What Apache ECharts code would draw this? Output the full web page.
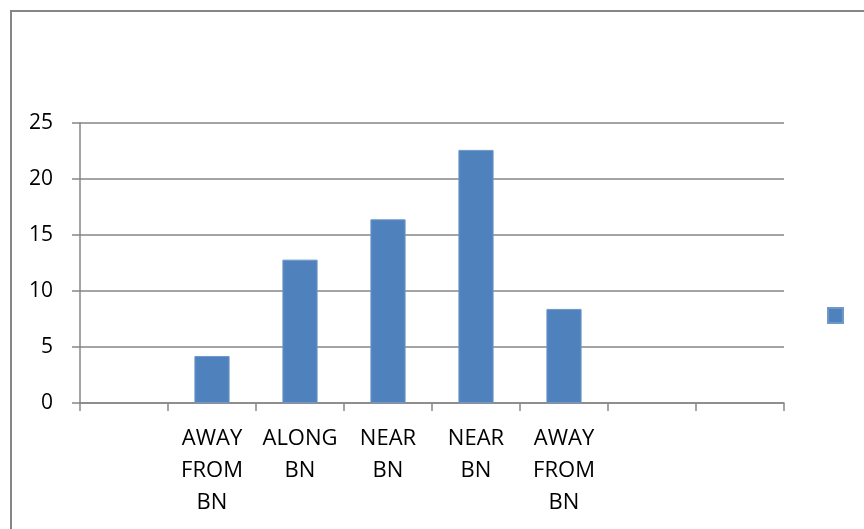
<!DOCTYPE html>
<html>
<head>
<meta charset="utf-8">
<script src="https://cdn.jsdelivr.net/npm/echarts@6/dist/echarts.min.js"></script>
<style>
  html, body { margin: 0; padding: 0; background: #fff; }
  #chart { width: 864px; height: 529px; }
</style>
</head>
<body>
<div id="chart"></div>
<script>
// Category slots along the x axis (blank slots carry no bar)
var categories = ['', 'AWAY\nFROM\nBN', 'ALONG\nBN', 'NEAR\nBN', 'NEAR\nBN', 'AWAY\nFROM\nBN', '', ''];
// Bar heights per slot
var values = [null, 4.2, 12.8, 16.4, 22.6, 8.4, null, null];
// Value axis range and step
var yMin = 0;
var yMax = 25;
var yStep = 5;
var seriesName = ' ';

var chart = echarts.init(document.getElementById('chart'), null, { renderer: 'canvas' });

var gray = '#868686';
var fontFamily = '"Open Sans", "Noto Sans", sans-serif';

chart.setOption({
  animation: false,
  backgroundColor: '#ffffff',
  graphic: [{
    type: 'rect',
    shape: { x: 11, y: 11, width: 900, height: 600 },
    style: { fill: 'none', stroke: gray, lineWidth: 2 },
    silent: true
  }],
  grid: { left: 80, right: 80, top: 123, bottom: 126, containLabel: false },
  legend: {
    data: [seriesName],
    left: 827,
    top: 307,
    padding: 0,
    icon: 'rect',
    itemWidth: 15,
    itemHeight: 15,
    itemGap: 0,
    textStyle: { fontSize: 1, color: '#fff' },
    selectedMode: false
  },
  xAxis: {
    type: 'category',
    data: categories,
    boundaryGap: true,
    axisLine: { show: true, lineStyle: { color: gray, width: 1.5 } },
    axisTick: { show: true, length: 8, alignWithLabel: false, lineStyle: { color: gray, width: 1.5 } },
    axisLabel: {
      interval: 0,
      margin: 20,
      color: '#000',
      fontSize: 22,
      lineHeight: 32,
      fontFamily: fontFamily,
      align: 'center'
    },
    splitLine: { show: false }
  },
  yAxis: {
    type: 'value',
    min: yMin,
    max: yMax,
    interval: yStep,
    axisLine: { show: true, lineStyle: { color: gray, width: 1.5 } },
    axisTick: { show: true, length: 8, lineStyle: { color: gray, width: 1.5 } },
    axisLabel: {
      margin: 27,
      color: '#000',
      fontSize: 21,
      fontFamily: fontFamily
    },
    splitLine: { show: true, lineStyle: { color: gray, width: 1.5 } }
  },
  series: [{
    name: seriesName,
    type: 'bar',
    data: values,
    barWidth: '40%',
    itemStyle: { color: '#4F81BD', borderColor: '#6f98c9', borderWidth: 1 }
  }]
});
</script>
</body>
</html>
